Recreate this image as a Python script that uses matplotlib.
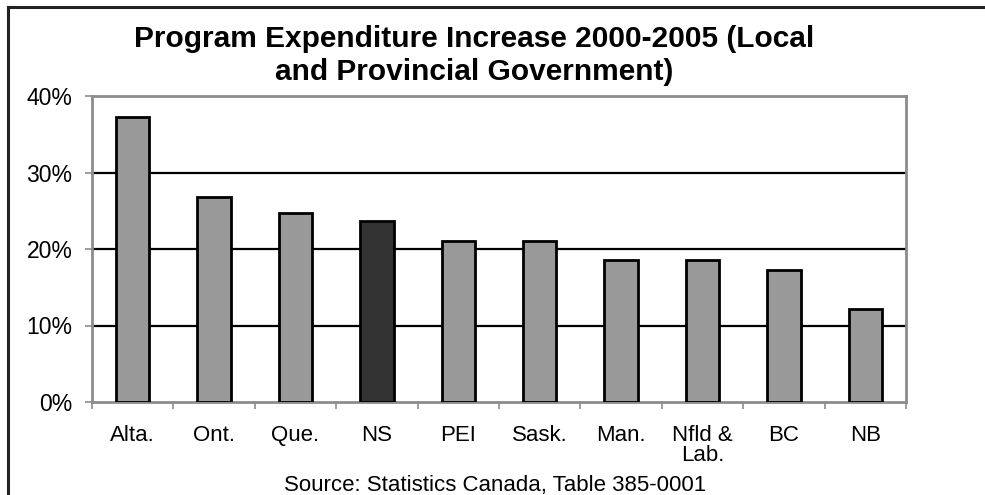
import matplotlib
matplotlib.use("Agg")
import matplotlib.pyplot as plt
from matplotlib.lines import Line2D

plt.rcParams['font.family'] = ['Liberation Sans', 'DejaVu Sans']

# Data
provinces = ["Alta.", "Ont.", "Que.", "NS", "PEI", "Sask.", "Man.", "Nfld &\nLab.", "BC", "NB"]
increase_pct = [37.2, 26.8, 24.7, 23.6, 21.1, 21.0, 18.6, 18.5, 17.2, 12.2]
highlight = "NS"
y_ticks = [0, 10, 20, 30, 40]
y_tick_labels = ["0%", "10%", "20%", "30%", "40%"]

title_text = "Program Expenditure Increase 2000-2005 (Local\nand Provincial Government)"
source_text = "Source: Statistics Canada, Table 385-0001"

W, H = 985, 495
fig = plt.figure(figsize=(W / 100, H / 100), dpi=100)
fig.patch.set_facecolor("white")


def fx(px):
    return px / W


def fy(py):
    return 1 - py / H


# plot area in pixel coordinates
x0, x1, ytop, ybot = 92, 906, 96, 402
ax = fig.add_axes([fx(x0), fy(ybot), (x1 - x0) / W, (ybot - ytop) / H])

colors = ["#333333" if p == highlight else "#999999" for p in provinces]
xs = list(range(len(provinces)))
ax.bar(xs, increase_pct, width=0.41, color=colors, edgecolor="black",
       linewidth=2.0, zorder=3)

ax.set_xlim(-0.5, len(provinces) - 0.5)
ax.set_ylim(0, 40)

# horizontal gridlines
for v in y_ticks[1:-1]:
    ax.axhline(v, color="black", linewidth=1.6, zorder=1)

for s in ax.spines.values():
    s.set_color("#8c8c8c")
    s.set_linewidth(2.0)

ax.set_yticks(y_ticks)
ax.set_yticklabels(y_tick_labels, fontsize=16.5)
ax.tick_params(axis="y", direction="out", length=5, width=1.2, color="#8c8c8c",
               pad=9, labelcolor="black")

# x ticks at category boundaries; labels placed under the bars
ax.set_xticks([i - 0.5 for i in range(len(provinces) + 1)])
ax.set_xticklabels([])
ax.tick_params(axis="x", direction="out", length=5, width=1.2, color="#8c8c8c")

label_baseline = 441
label_step = 20
for i, lab in enumerate(provinces):
    xpix = x0 + (i + 0.5) * (x1 - x0) / len(provinces)
    for k, line in enumerate(lab.split("\n")):
        fig.text(fx(xpix), fy(label_baseline + k * label_step), line,
                 ha="center", va="baseline", fontsize=16)

# two-line title
for k, line in enumerate(title_text.split("\n")):
    fig.text(fx(474.5), fy(47 + k * 33), line, ha="center", va="baseline",
             fontsize=21.5, fontweight="bold")

fig.text(fx(495), fy(490.5), source_text, ha="center", va="baseline", fontsize=16)

# outer frame lines (top and left)
fig.add_artist(Line2D([fx(8), 1.0], [fy(7), fy(7)], color="#222222",
                      linewidth=2.2, transform=fig.transFigure))
fig.add_artist(Line2D([fx(8), fx(8)], [fy(7), 0], color="#222222",
                      linewidth=2.2, transform=fig.transFigure))

fig.savefig("out.png", dpi=100)
